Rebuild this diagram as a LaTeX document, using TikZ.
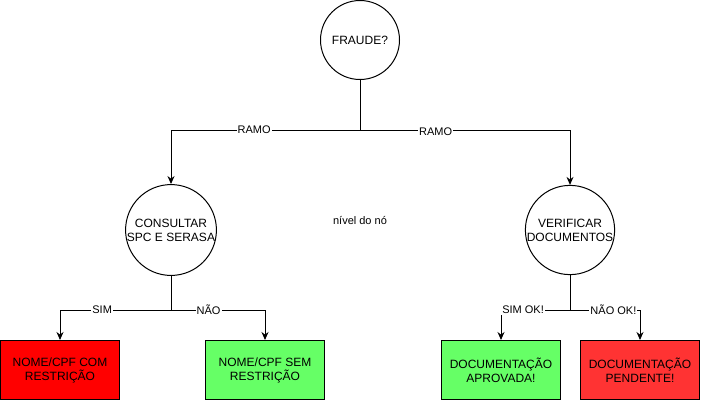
\documentclass[tikz,border=0pt]{standalone}
\usepackage{xcolor}
\usepackage{fontspec}
\setmainfont{Liberation Sans}
\usetikzlibrary{arrows.meta, positioning}

\definecolor{vermelho}{HTML}{FF0000}
\definecolor{vermelhoclaro}{HTML}{FF3333}
\definecolor{verde}{HTML}{66FF66}

\begin{document}
\begin{tikzpicture}[x=1pt, y=-1pt, line width=1pt, >={Stealth[length=8pt, width=7pt]},
    decisao/.style={circle, draw, minimum size=79pt, inner sep=0pt, align=center, font=\fontsize{12}{14}\selectfont},
    folha/.style={rectangle, draw, minimum width=119pt, minimum height=59pt, align=center, font=\fontsize{12}{14}\selectfont},
    ramo/.style={fill=white, inner sep=1pt, font=\fontsize{11}{13}\selectfont}]
    \useasboundingbox (0,0) rectangle (701,402);

    \node[decisao] (fraude) at (360,40) {FRAUDE?};
    \node[decisao] (consultar) at (171,230) {CONSULTAR\\SPC E SERASA};
    \node[decisao] (verificar) at (570,230) {VERIFICAR\\DOCUMENTOS};
    \node[font=\fontsize{11}{13}\selectfont] (nivel) at (360,220) {nível do nó};

    \node[folha, fill=vermelho] (comrestr) at (60,370) {NOME/CPF COM\\RESTRIÇÃO};
    \node[folha, fill=verde] (semrestr) at (265,370) {NOME/CPF SEM\\RESTRIÇÃO};
    \node[folha, fill=verde] (aprovada) at (501,370) {DOCUMENTAÇÃO\\APROVADA!};
    \node[folha, fill=vermelhoclaro] (pendente) at (640,370) {DOCUMENTAÇÃO\\PENDENTE!};

    % pontos de ramificacao
    \coordinate (jfraude) at (360,130);
    \coordinate (jconsultar) at (171,310);
    \coordinate (jverificar) at (570,310);

    \draw[->] (fraude) -- (jfraude) -| node[ramo, pos=0.28] {RAMO} (consultar);
    \draw[->] (fraude) -- (jfraude) -| node[ramo, pos=0.18, yshift=-2pt] {RAMO} (verificar);

    \draw[->] (consultar) -- (jconsultar) -| node[ramo, pos=0.31] {SIM} (comrestr);
    \draw[->] (consultar) -- (jconsultar) -| node[ramo, pos=0.2] {NÃO} (semrestr);

    \draw[->] (verificar) -- (jverificar) -| node[ramo, pos=0.34] {SIM OK!} (aprovada);
    \draw[->] (verificar) -- (jverificar) -| node[ramo, pos=0.31] {NÃO OK!} (pendente);
\end{tikzpicture}
\end{document}
